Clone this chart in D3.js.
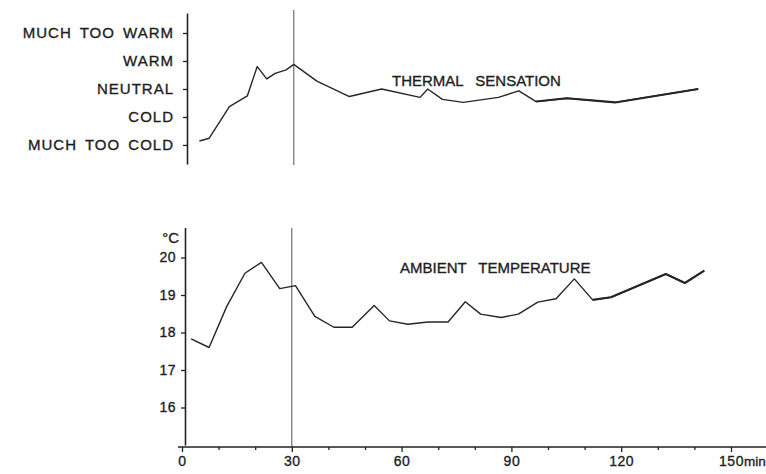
<!DOCTYPE html>
<html>
<head>
<meta charset="utf-8">
<script src="https://cdn.jsdelivr.net/npm/d3@7"></script>
<style>
  body { margin: 0; background: #fff; }
  svg text { font-family: "Liberation Sans", Arial, sans-serif; fill: #1e1e1e; stroke: #1e1e1e; stroke-width: 0.35px; }
</style>
</head>
<body>
<div id="chart"></div>
<script>
// thermal sensation scale
var sensationLevels = [-2, -1, 0, 1, 2];
var sensationLabels = ["MUCH TOO COLD", "COLD", "NEUTRAL", "WARM", "MUCH TOO WARM"];

// thermal sensation vs time (min)
var sensationTime  = [4.2, 6.9, 12.4, 17.3, 20.0, 22.6, 24.9, 27.9, 30.0, 36.3, 45.2, 54.0, 64.5, 66.6, 70.6, 76.3, 85.9, 91.5, 96.2, 104.6, 117.8, 140.5];
var sensationValue = [-1.86, -1.76, -0.63, -0.25, 0.80, 0.36, 0.56, 0.68, 0.88, 0.28, -0.27, 0.0, -0.30, 0.0, -0.37, -0.48, -0.30, -0.07, -0.45, -0.33, -0.48, 0.0];

// ambient temperature vs time (min)
var ambientTime = [2.5, 7.4, 12.2, 17.2, 21.7, 26.7, 31, 36.3, 41.5, 46.5, 52.5, 56.7, 61.7, 67.2, 72.7, 77.4, 81.6, 87.2, 91.9, 97.2, 102.2, 107.2, 112.2, 117.2, 132.2, 137.4, 142.7];
var ambientTemp = [17.83, 17.6, 18.69, 19.58, 19.87, 19.17, 19.25, 18.43, 18.14, 18.14, 18.72, 18.31, 18.22, 18.28, 18.28, 18.82, 18.49, 18.4, 18.49, 18.81, 18.9, 19.43, 18.87, 18.94, 19.56, 19.32, 19.65];

var tempTicks = [16, 17, 18, 19, 20];
var timeTicks = [0, 30, 60, 90, 120, 150];
var minorTicks = [10, 20, 40, 50, 70, 80, 100, 110, 130, 140];
var markTime = 30;

var width = 766, height = 474;

var svg = d3.select("#chart").append("svg")
    .attr("width", width)
    .attr("height", height);

// scales
var xTop = d3.scaleLinear().domain([0, 150]).range([184, 733]);
var yTop = d3.scaleLinear().domain([-2.68, 2.714]).range([164, 13]);
var xBot = d3.scaleLinear().domain([0, 150]).range([182, 731]);
var yBot = d3.scaleLinear().domain([15, 20.8]).range([445, 227.5]);

function styleAxis(g){
  g.selectAll("path.domain").attr("stroke", "#222").attr("stroke-width", 1.6);
  g.selectAll(".tick line").attr("stroke", "#222").attr("stroke-width", 1.3);
  g.selectAll(".tick text").attr("fill", "#1e1e1e");
}

// ---------- top panel ----------
var topPanel = svg.append("g");

topPanel.append("line")
    .attr("x1", xTop(markTime)).attr("x2", xTop(markTime))
    .attr("y1", 10).attr("y2", 165)
    .attr("stroke", "#555").attr("stroke-width", 1);

var topAxis = topPanel.append("g")
    .attr("transform", "translate(187,0)")
    .call(d3.axisLeft(yTop)
      .tickValues(sensationLevels)
      .tickFormat(function(d){ return sensationLabels[d + 2]; })
      .tickSize(4).tickSizeOuter(0).tickPadding(9));
styleAxis(topAxis);
topAxis.selectAll(".tick text")
    .style("font-size", "15px")
    .style("letter-spacing", "1px")
    .style("word-spacing", "3px");

var sensData = sensationTime.map(function(t, i){ return {t: t, v: sensationValue[i]}; });
var sensLine = d3.line()
    .x(function(d){ return xTop(d.t); })
    .y(function(d){ return yTop(d.v); });

topPanel.append("path")
    .datum(sensData)
    .attr("d", sensLine)
    .attr("fill", "none").attr("stroke", "#262626").attr("stroke-width", 1.4)
    .attr("stroke-linejoin", "round");
// heavier pen stroke towards the end
topPanel.append("path")
    .datum(sensData.filter(function(d){ return d.t >= 96; }))
    .attr("d", sensLine)
    .attr("fill", "none").attr("stroke", "#262626").attr("stroke-width", 2.1)
    .attr("stroke-linejoin", "round");

topPanel.append("text")
    .attr("x", 392).attr("y", 86)
    .style("font-size", "15px")
    .style("word-spacing", "8px")
    .text("THERMAL SENSATION");

// ---------- bottom panel ----------
var botPanel = svg.append("g");

botPanel.append("line")
    .attr("x1", xBot(markTime)).attr("x2", xBot(markTime))
    .attr("y1", 228).attr("y2", 447)
    .attr("stroke", "#555").attr("stroke-width", 1);

var yAxisB = botPanel.append("g")
    .attr("transform", "translate(185,0)")
    .call(d3.axisLeft(yBot).tickValues(tempTicks).tickFormat(d3.format("d"))
      .tickSize(4).tickSizeOuter(0).tickPadding(5));
styleAxis(yAxisB);
yAxisB.selectAll(".tick text").style("font-size", "14px").style("letter-spacing", "0.5px");

botPanel.append("text")
    .attr("x", 179).attr("y", 243)
    .attr("text-anchor", "end")
    .style("font-size", "15px")
    .text("\u00B0C");

// x axis
botPanel.append("line")
    .attr("x1", 178).attr("x2", width)
    .attr("y1", 447).attr("y2", 447)
    .attr("stroke", "#222").attr("stroke-width", 1.6);

var xAxisB = botPanel.append("g")
    .attr("transform", "translate(0,447)")
    .call(d3.axisBottom(xBot).tickValues(timeTicks).tickFormat(d3.format("d"))
      .tickSize(5).tickSizeOuter(0).tickPadding(4));
xAxisB.select("path.domain").remove();
styleAxis(xAxisB);
xAxisB.selectAll(".tick text").style("font-size", "14px").style("letter-spacing", "0.5px");

var xMinor = botPanel.append("g")
    .attr("transform", "translate(0,447)")
    .call(d3.axisBottom(xBot).tickValues(minorTicks).tickSize(3).tickFormat(""));
xMinor.select("path.domain").remove();
styleAxis(xMinor);

botPanel.append("text")
    .attr("x", xBot(150) + 13).attr("y", 466)
    .style("font-size", "13.5px")
    .text("min");

var ambData = ambientTime.map(function(t, i){ return {t: t, v: ambientTemp[i]}; });
var ambLine = d3.line()
    .x(function(d){ return xBot(d.t); })
    .y(function(d){ return yBot(d.v); });

botPanel.append("path")
    .datum(ambData)
    .attr("d", ambLine)
    .attr("fill", "none").attr("stroke", "#262626").attr("stroke-width", 1.4)
    .attr("stroke-linejoin", "round");
botPanel.append("path")
    .datum(ambData.filter(function(d){ return d.t >= 112; }))
    .attr("d", ambLine)
    .attr("fill", "none").attr("stroke", "#262626").attr("stroke-width", 2.1)
    .attr("stroke-linejoin", "round");

botPanel.append("text")
    .attr("x", 400).attr("y", 273)
    .style("font-size", "15px")
    .style("word-spacing", "8px")
    .text("AMBIENT TEMPERATURE");
</script>
</body>
</html>
